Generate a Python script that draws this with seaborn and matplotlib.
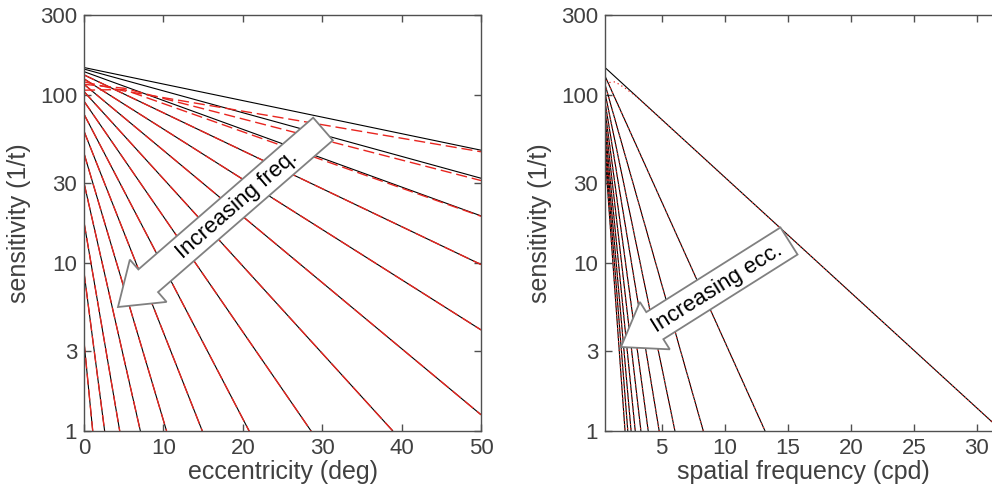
import pandas as pd
import matplotlib
matplotlib.use('Agg')
import matplotlib.pyplot as plt
from matplotlib.patches import FancyArrow
from matplotlib.ticker import FixedLocator, FixedFormatter, NullLocator
import seaborn as sns

# Left panel: one line per spatial frequency (cpd), sensitivity at the fovea
# and the point where the line leaves the axes (right edge or bottom edge)
freq_cpd = [0.5, 0.66, 0.87, 1.15, 1.52, 2.0, 2.64, 3.48, 4.59, 6.06, 8.0, 10.6, 13.9, 18.4, 24.3]
sens_fovea = [146, 143, 138, 132, 125, 116, 105, 92, 77, 61, 45, 30, 17.5, 8.8, 3.4]
ecc_exit = [50, 50, 50, 50, 50, 50, 38.9, 28.6, 20.8, 14.9, 10.4, 7.1, 4.5, 2.6, 1.1]
sens_exit = [47, 32, 19.1, 9.8, 4.0, 1.25, 1, 1, 1, 1, 1, 1, 1, 1, 1]

# Red dashed curves that split from the black ones at the lowest frequencies
red_ecc_pts = [0, 5, 50]
red_low_freq_sens = [
    [120, 106, 46],
    [116, 110, 31],
    [107, 108, 19],
]

# Right panel: one line per eccentricity (deg)
ecc_deg = [0, 5, 10, 15, 20, 25, 30, 35, 40, 45, 50]
sens_low_freq = [146, 130, 116, 103, 91, 81, 72, 64, 57, 51, 45]
freq_cutoff = [32, 13.2, 8.3, 6.05, 4.8, 3.93, 3.35, 2.9, 2.57, 2.31, 2.09]

# Red dotted curve for the fovea (dips below the black line at low freq)
red_fovea_freq = [0.5, 1.3, 2.1, 3.0, 32]
red_fovea_sens = [118, 120, 110, 98, 1]

TEXT_COLOR = '#404040'
AXIS_COLOR = '#505050'
RED = '#e8251f'
YTICKS = [1, 3, 10, 30, 100, 300]


def long_form(starts_x, starts_y, ends_x, ends_y):
    """Builds a long-form table with one two-point segment per line."""
    rows = []
    for i, (x0, y0, x1, y1) in enumerate(zip(starts_x, starts_y, ends_x, ends_y)):
        rows.append({'line': i, 'x': x0, 'y': y0})
        rows.append({'line': i, 'x': x1, 'y': y1})
    return pd.DataFrame(rows)


def style_axis(ax, xlabel):
    ax.set_yscale('log')
    ax.set_ylim(1, 300)
    ax.yaxis.set_major_locator(FixedLocator(YTICKS))
    ax.yaxis.set_major_formatter(FixedFormatter([str(t) for t in YTICKS]))
    ax.yaxis.set_minor_locator(NullLocator())
    ax.tick_params(direction='in', top=True, right=True, length=5, width=1,
                   color=AXIS_COLOR, labelcolor=TEXT_COLOR, labelsize=16, pad=5)
    for spine in ax.spines.values():
        spine.set_visible(True)
        spine.set_color(AXIS_COLOR)
        spine.set_linewidth(1)
    ax.set_xlabel(xlabel, fontsize=18, color=TEXT_COLOR, labelpad=1)
    ax.set_ylabel('sensitivity (1/t)', fontsize=18, color=TEXT_COLOR, labelpad=6)


def add_block_arrow(fig, tail_px, tip_px, body, head_w, head_l, label, text_px, angle):
    """Draws a white block arrow with a label, positioned in figure pixels."""
    h = fig.get_figheight() * fig.dpi
    x0, y0 = tail_px[0] / fig.dpi, (h - tail_px[1]) / fig.dpi
    x1, y1 = tip_px[0] / fig.dpi, (h - tip_px[1]) / fig.dpi
    arrow = FancyArrow(x0, y0, x1 - x0, y1 - y0, width=body / fig.dpi,
                       head_width=head_w / fig.dpi, head_length=head_l / fig.dpi,
                       length_includes_head=True, transform=fig.dpi_scale_trans,
                       facecolor='white', edgecolor='#808080', linewidth=1.3, zorder=5)
    fig.add_artist(arrow)
    fig.text(text_px[0] / fig.dpi / fig.get_figwidth(), 1 - text_px[1] / h, label,
             rotation=angle, rotation_mode='anchor', ha='center', va='center',
             fontsize=16, color='black', zorder=6)


sns.set_style('ticks')
plt.rcParams['font.family'] = ['Liberation Sans', 'DejaVu Sans']

fig = plt.figure(figsize=(9.92, 4.92), dpi=100)
ax_ecc = fig.add_axes([84 / 992, 61 / 492, 397 / 992, 416 / 492])
ax_sf = fig.add_axes([605 / 992, 61 / 492, 397 / 992, 416 / 492])

# Left panel: sensitivity vs eccentricity
black_left = long_form([0] * len(freq_cpd), sens_fovea, ecc_exit, sens_exit)
sns.lineplot(data=black_left, x='x', y='y', units='line', estimator=None, sort=False,
             color='black', linewidth=0.8, legend=False, ax=ax_ecc)

red_rows = []
for i, sens in enumerate(red_low_freq_sens):
    for e, s in zip(red_ecc_pts, sens):
        red_rows.append({'line': i, 'x': e, 'y': s})
red_left = pd.concat([pd.DataFrame(red_rows),
                      black_left[black_left['line'] >= 3].assign(line=lambda d: d['line'] + 100)])
sns.lineplot(data=red_left, x='x', y='y', units='line', estimator=None, sort=False,
             color=RED, linewidth=1.0, linestyle=(0, (8, 3.5)), legend=False, ax=ax_ecc)

ax_ecc.set_xlim(0, 50)
ax_ecc.set_xticks([0, 10, 20, 30, 40, 50])
style_axis(ax_ecc, 'eccentricity (deg)')

# Right panel: sensitivity vs spatial frequency
black_right = long_form([0.5] * len(ecc_deg), sens_low_freq, freq_cutoff, [1] * len(ecc_deg))
sns.lineplot(data=black_right, x='x', y='y', units='line', estimator=None, sort=False,
             color='black', linewidth=0.8, legend=False, ax=ax_sf)

red_right = pd.concat([
    pd.DataFrame({'line': -1, 'x': red_fovea_freq, 'y': red_fovea_sens}),
    black_right[black_right['line'] >= 1],
])
sns.lineplot(data=red_right, x='x', y='y', units='line', estimator=None, sort=False,
             color=RED, linewidth=0.9, linestyle=(0, (1, 2.5)), legend=False, ax=ax_sf)

ax_sf.set_xlim(0.5, 32)
ax_sf.set_xticks([5, 10, 15, 20, 25, 30])
style_axis(ax_sf, 'spatial frequency (cpd)')

# Block arrows with labels
add_block_arrow(fig, (323, 129), (118, 307), 30, 56, 40, 'Increasing freq.', (237, 205), 41)
add_block_arrow(fig, (789, 241), (621, 347), 32, 56, 40, 'Increasing ecc.', (717, 288), 32)

fig.savefig('out.png', dpi=100)
